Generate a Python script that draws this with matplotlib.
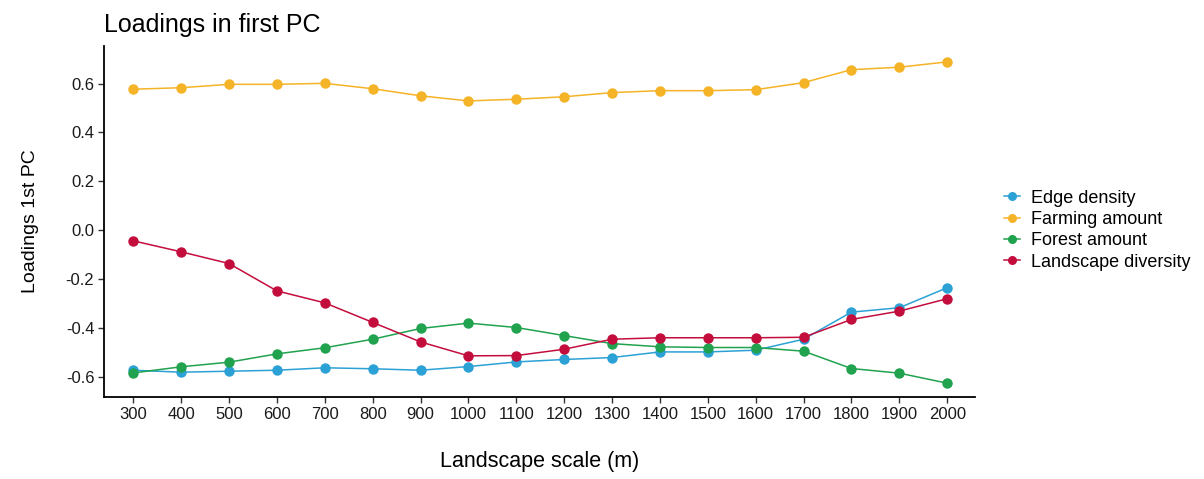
import matplotlib

matplotlib.use("Agg")

import matplotlib.pyplot as plt

plt.rcParams["font.family"] = ["Liberation Sans", "DejaVu Sans"]

scales = [300, 400, 500, 600, 700, 800, 900, 1000, 1100, 1200,
          1300, 1400, 1500, 1600, 1700, 1800, 1900, 2000]

edge_density = [-0.574, -0.582, -0.578, -0.574, -0.564, -0.568, -0.574, -0.559, -0.540,
                -0.530, -0.522, -0.499, -0.499, -0.492, -0.447, -0.336, -0.318, -0.236]
farming_amount = [0.577, 0.583, 0.597, 0.597, 0.601, 0.579, 0.550, 0.529, 0.536,
                  0.546, 0.563, 0.571, 0.571, 0.575, 0.604, 0.657, 0.667, 0.689]
forest_amount = [-0.585, -0.560, -0.541, -0.507, -0.482, -0.447, -0.403, -0.381, -0.399,
                 -0.432, -0.465, -0.478, -0.481, -0.481, -0.496, -0.567, -0.586, -0.627]
landscape_diversity = [-0.044, -0.089, -0.137, -0.249, -0.298, -0.378, -0.458, -0.515, -0.514,
                       -0.488, -0.447, -0.441, -0.441, -0.441, -0.439, -0.366, -0.332, -0.281]

series = [
    ("Edge density", edge_density, "#2ca1d6"),
    ("Farming amount", farming_amount, "#f5b327"),
    ("Forest amount", forest_amount, "#20a24e"),
    ("Landscape diversity", landscape_diversity, "#c30d3d"),
]

fig = plt.figure(figsize=(12.04, 4.79), dpi=100)
ax = fig.add_axes([0.0864, 0.171, 0.7234, 0.733])

for name, vals, col in series:
    ax.plot(scales, vals, color=col, lw=1.1, marker="o", ms=7.5,
            markeredgewidth=0, label=name)

ax.set_xlim(239, 2058)
ax.set_ylim(-0.684, 0.754)
ax.set_xticks(scales)
ax.set_yticks([-0.6, -0.4, -0.2, 0.0, 0.2, 0.4, 0.6])
ax.set_yticklabels(["-0.6", "-0.4", "-0.2", "0.0", "0.2", "0.4", "0.6"])

for s in ["top", "right"]:
    ax.spines[s].set_visible(False)
for s in ["left", "bottom"]:
    ax.spines[s].set_linewidth(1.3)
    ax.spines[s].set_color("black")
ax.tick_params(axis="both", length=4, width=1, color="#333333",
               labelsize=12, labelcolor="#1a1a1a", pad=3)

ax.set_xlabel("Landscape scale (m)", fontsize=15.5, labelpad=21)
ax.set_ylabel("Loadings 1st PC", fontsize=14, labelpad=19)
ax.set_title("Loadings in first PC", fontsize=18, loc="left", x=0.0, pad=10)

leg = ax.legend(loc="center left", bbox_to_anchor=(1.025, 0.475), frameon=False,
                fontsize=13, handlelength=0.9, handletextpad=0.6,
                labelspacing=0.24, borderaxespad=0)
for h in leg.legend_handles:
    h.set_markersize(6.5)

fig.savefig("out.png", dpi=100)
plt.close(fig)
